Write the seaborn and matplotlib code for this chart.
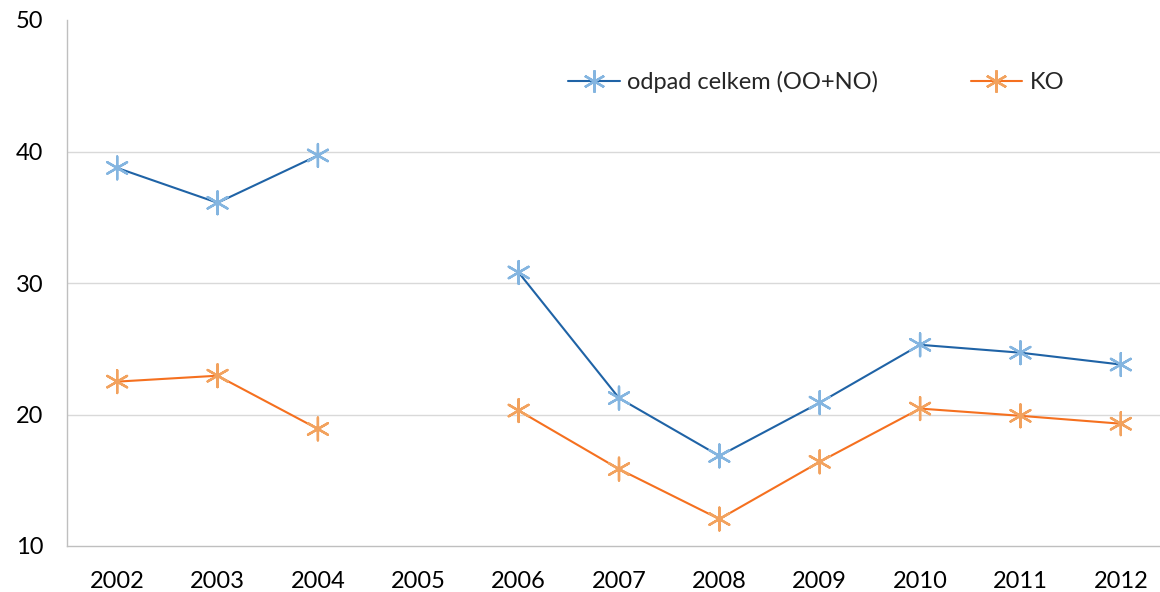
import numpy as np
import pandas as pd
import seaborn as sns
import matplotlib.pyplot as plt
from matplotlib.lines import Line2D

years = ["2002", "2003", "2004", "2005", "2006", "2007", "2008", "2009", "2010", "2011", "2012"]
celkem = [38.75, 36.1, 39.7, np.nan, 30.8, 21.25, 16.85, 20.9, 25.3, 24.7, 23.8]
ko = [22.5, 22.95, 18.9, np.nan, 20.3, 15.85, 12.05, 16.4, 20.45, 19.9, 19.3]

names = ["odpad celkem (OO+NO)", "KO"]
line_colors = ["#1F63A6", "#F5701F"]
marker_colors = ["#84B5E0", "#F2A25E"]

sns.set_theme(style="white")
plt.rcParams["font.family"] = ["Lato", "DejaVu Sans"]

rows = []
for name, vals in zip(names, [celkem, ko]):
    seg = 0
    for i, (y, v) in enumerate(zip(years, vals)):
        if np.isnan(v):
            seg += 1
            continue
        rows.append({"pos": i, "year": y, "value": v, "series": name, "seg": seg})
df = pd.DataFrame(rows)

fig = plt.figure(figsize=(11.6, 5.92), dpi=100)
ax = fig.add_axes([67 / 1160, 1 - 546 / 592, 1104 / 1160, 526 / 592])

sns.lineplot(data=df, x="pos", y="value", hue="series", units="seg", estimator=None,
             palette=dict(zip(names, line_colors)), linewidth=1.5, legend=False, ax=ax)
# 6-arm asterisk, first arm pointing up
star = (6, 2, 0)
sns.scatterplot(data=df, x="pos", y="value", hue="series", palette=dict(zip(names, marker_colors)),
                marker=star, s=270, linewidth=1.7, legend=False, ax=ax, zorder=3)

ax.set_xlim(-0.5, 10.5)
ax.set_ylim(10, 50)
ax.set_xticks(range(len(years)))
ax.set_xticklabels(years)
ax.set_yticks([10, 20, 30, 40, 50])
ax.set_xlabel("")
ax.set_ylabel("")
ax.tick_params(axis="both", length=0, labelsize=17, colors="#000000")
ax.tick_params(axis="y", pad=17)
ax.tick_params(axis="x", pad=18)
for y in [20, 30, 40]:
    ax.axhline(y, color="#D9D9D9", linewidth=1, zorder=0)
for side in ["top", "right"]:
    ax.spines[side].set_visible(False)
for side in ["left", "bottom"]:
    ax.spines[side].set_color("#BFBFBF")
    ax.spines[side].set_linewidth(1)

handles = [Line2D([0], [0], color=lc, linewidth=1.5, marker=star, markersize=16,
                  markeredgecolor=mc, markeredgewidth=1.7)
           for lc, mc in zip(line_colors, marker_colors)]
fig.legend(handles, names, loc="center left", bbox_to_anchor=(0.49, 1 - 82 / 592),
           ncol=2, frameon=False, fontsize=17, handlelength=2.2, handletextpad=0.3,
           columnspacing=3.9, borderpad=0, borderaxespad=0)

fig.savefig("out.png", dpi=100)
